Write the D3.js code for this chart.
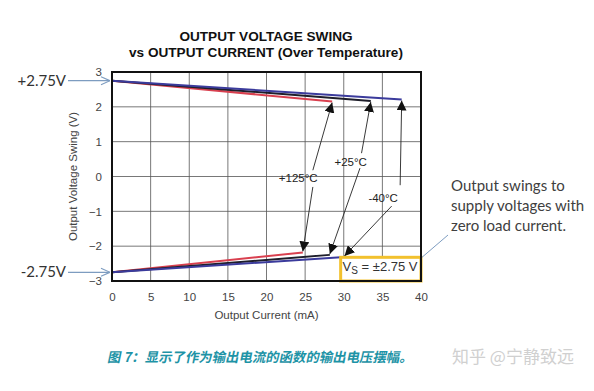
<!DOCTYPE html>
<html>
<head>
<meta charset="utf-8">
<script src="https://cdn.jsdelivr.net/npm/d3@7"></script>
<style>
  body { margin: 0; background: #fff; }
  svg { display: block; }
</style>
</head>
<body>
<svg id="chart"></svg>
<script>
// data
const temps = ['+125°C', '+25°C', '-40°C'];
const lineColors = ['#d9404f', '#1e1e2a', '#3b3b9c'];
const startHigh = 2.75, startLow = -2.75;
const highEndCurrent = [28.5, 33.5, 37.5];
const highEndVolt = [2.15, 2.17, 2.21];
const lowEndCurrent = [24.7, 28.2, 30.1];
const lowEndVolt = [-2.18, -2.25, -2.31];
const labelPos = [[24.1, -0.05], [30.9, 0.41], [35.1, -0.62]];
const tailHigh = [[26.0, 0.18], [32.3, 0.67], [37.3, -0.25]];
const tailLow = [[26.0, -0.30], [32.1, 0.24], [36.2, -0.85]];
const xTicks = [0, 5, 10, 15, 20, 25, 30, 35, 40];
const yTicks = [3, 2, 1, 0, -1, -2, -3];

const W = 594, H = 391;
const margin = { top: 72, right: 173, bottom: 110, left: 112 };
const width = W - margin.left - margin.right;
const height = H - margin.top - margin.bottom;

const svg = d3.select('#chart').attr('width', W).attr('height', H);

const defs = svg.append('defs');
defs.append('marker').attr('id', 'head')
  .attr('viewBox', '0 0 10 10').attr('refX', 10).attr('refY', 5)
  .attr('markerWidth', 10).attr('markerHeight', 10)
  .attr('markerUnits', 'userSpaceOnUse').attr('orient', 'auto')
  .append('path').attr('d', 'M0,0L10,5L0,10z').attr('fill', '#111');
defs.append('marker').attr('id', 'open')
  .attr('viewBox', '0 0 10 10').attr('refX', 10).attr('refY', 5)
  .attr('markerWidth', 10).attr('markerHeight', 10)
  .attr('markerUnits', 'userSpaceOnUse').attr('orient', 'auto')
  .append('path').attr('d', 'M1,1L10,5L1,9').attr('fill', 'none')
  .attr('stroke', '#7d9cc0').attr('stroke-width', 1.2);

const g = svg.append('g').attr('transform', `translate(${margin.left},${margin.top})`);

const x = d3.scaleLinear().domain([0, 40]).range([0, width]);
const y = d3.scaleLinear().domain([-3, 3]).range([height, 0]);

// title
svg.append('text').attr('x', 266).attr('y', 41).attr('text-anchor', 'middle')
  .style('font', 'bold 13.6px "Liberation Sans", Arial, sans-serif').attr('fill', '#111')
  .text('OUTPUT VOLTAGE SWING');
svg.append('text').attr('x', 266).attr('y', 57).attr('text-anchor', 'middle')
  .style('font', 'bold 13.6px "Liberation Sans", Arial, sans-serif').attr('fill', '#111')
  .text('vs OUTPUT CURRENT (Over Temperature)');

// grid
g.append('g').selectAll('line').data(xTicks.slice(1, -1)).join('line')
  .attr('x1', d => x(d)).attr('x2', d => x(d)).attr('y1', 0).attr('y2', height)
  .attr('stroke', '#555').attr('stroke-width', 0.8);
g.append('g').selectAll('line').data(yTicks.slice(1, -1)).join('line')
  .attr('y1', d => y(d)).attr('y2', d => y(d)).attr('x1', 0).attr('x2', width)
  .attr('stroke', '#555').attr('stroke-width', 0.8);

// axes
const axisFont = '11.5px "Liberation Sans", Arial, sans-serif';
const xAxis = g.append('g').attr('transform', `translate(0,${height})`)
  .call(d3.axisBottom(x).tickValues(xTicks).tickSize(0).tickPadding(12));
const yAxis = g.append('g')
  .call(d3.axisLeft(y).tickValues(yTicks).tickSize(0).tickPadding(10)
    .tickFormat(d => d < 0 ? '\u2212' + Math.abs(d) : d));
[xAxis, yAxis].forEach(a => {
  a.select('.domain').remove();
  a.selectAll('text').style('font', axisFont).attr('fill', '#444');
});

g.append('text').attr('x', width / 2).attr('y', height + 38).attr('text-anchor', 'middle')
  .style('font', axisFont).attr('fill', '#444')
  .text('Output Current (mA)');
g.append('text').attr('transform', 'rotate(-90)').attr('x', -height / 2).attr('y', -35)
  .attr('text-anchor', 'middle')
  .style('font', axisFont).attr('fill', '#444')
  .text('Output Voltage Swing (V)');

// curves
const line = d3.line().x(d => x(d[0])).y(d => y(d[1]));
temps.forEach((t, i) => {
  g.append('path').datum([[0, startHigh], [highEndCurrent[i], highEndVolt[i]]])
    .attr('d', line).attr('fill', 'none').attr('stroke', lineColors[i]).attr('stroke-width', 2);
  g.append('path').datum([[0, startLow], [lowEndCurrent[i], lowEndVolt[i]]])
    .attr('d', line).attr('fill', 'none').attr('stroke', lineColors[i]).attr('stroke-width', 2);
});

// Vs box
const box = g.append('g');
box.append('rect').attr('x', x(29.6)).attr('y', y(-2.32)).attr('width', x(40) - x(29.6))
  .attr('height', y(-3) - y(-2.32)).attr('fill', '#fff')
  .attr('stroke', '#f2c12e').attr('stroke-width', 3);
const vs = box.append('text').attr('x', x(34.7)).attr('y', y(-2.72)).attr('text-anchor', 'middle')
  .style('font', '13px "Liberation Sans", Arial, sans-serif').attr('fill', '#333');
vs.append('tspan').text('V');
vs.append('tspan').attr('dy', 3).style('font-size', '10px').text('S');
vs.append('tspan').attr('dy', -3).text(' = \u00b12.75 V');

// frame
g.append('rect').attr('width', width).attr('height', height)
  .attr('fill', 'none').attr('stroke', '#111').attr('stroke-width', 2);

// temperature labels and arrows
temps.forEach((t, i) => {
  g.append('text').attr('x', x(labelPos[i][0])).attr('y', y(labelPos[i][1]) + 4)
    .attr('text-anchor', 'middle')
    .style('font', axisFont).attr('fill', '#222')
    .text(t);
  g.append('line').attr('x1', x(tailHigh[i][0])).attr('y1', y(tailHigh[i][1]))
    .attr('x2', x(highEndCurrent[i])).attr('y2', y(highEndVolt[i]) + 1)
    .attr('stroke', '#222').attr('stroke-width', 0.9).attr('marker-end', 'url(#head)');
  g.append('line').attr('x1', x(tailLow[i][0])).attr('y1', y(tailLow[i][1]))
    .attr('x2', x(lowEndCurrent[i])).attr('y2', y(lowEndVolt[i]) - 1)
    .attr('stroke', '#222').attr('stroke-width', 0.9).attr('marker-end', 'url(#head)');
});

// side annotations
const noteFont = '15px Lato, "Open Sans", sans-serif';
[[startHigh, '+2.75V'], [startLow, '-2.75V']].forEach(([v, s]) => {
  svg.append('text').attr('x', 66).attr('y', margin.top + y(v) + 5).attr('text-anchor', 'end')
    .style('font', noteFont).attr('fill', '#333').text(s);
  svg.append('line').attr('x1', 68).attr('x2', margin.left - 2)
    .attr('y1', margin.top + y(v)).attr('y2', margin.top + y(v))
    .attr('stroke', '#7d9cc0').attr('stroke-width', 1.2).attr('marker-end', 'url(#open)');
});

const note = ['Output swings to', 'supply voltages with', 'zero load current.'];
svg.append('g').selectAll('text').data(note).join('text')
  .attr('x', 451).attr('y', (d, i) => 191 + i * 20)
  .style('font', noteFont).attr('fill', '#404040').text(d => d);
svg.append('line').attr('x1', margin.left + width + 1).attr('y1', margin.top + y(-2.32))
  .attr('x2', 448).attr('y2', 235).attr('stroke', '#7d9cc0').attr('stroke-width', 1);

// caption and watermark
svg.append('text').attr('transform', 'translate(107,362) skewX(-12)')
  .style('font', 'bold 13.4px "Noto Sans CJK SC", sans-serif').attr('fill', '#1d93a6')
  .text('图 7：显示了作为输出电流的函数的输出电压摆幅。');
svg.append('text').attr('x', 452).attr('y', 363)
  .style('font', '17px "Noto Sans CJK SC", sans-serif').attr('fill', '#d0d0d0')
  .text('知乎 @宁静致远');
</script>
</body>
</html>
